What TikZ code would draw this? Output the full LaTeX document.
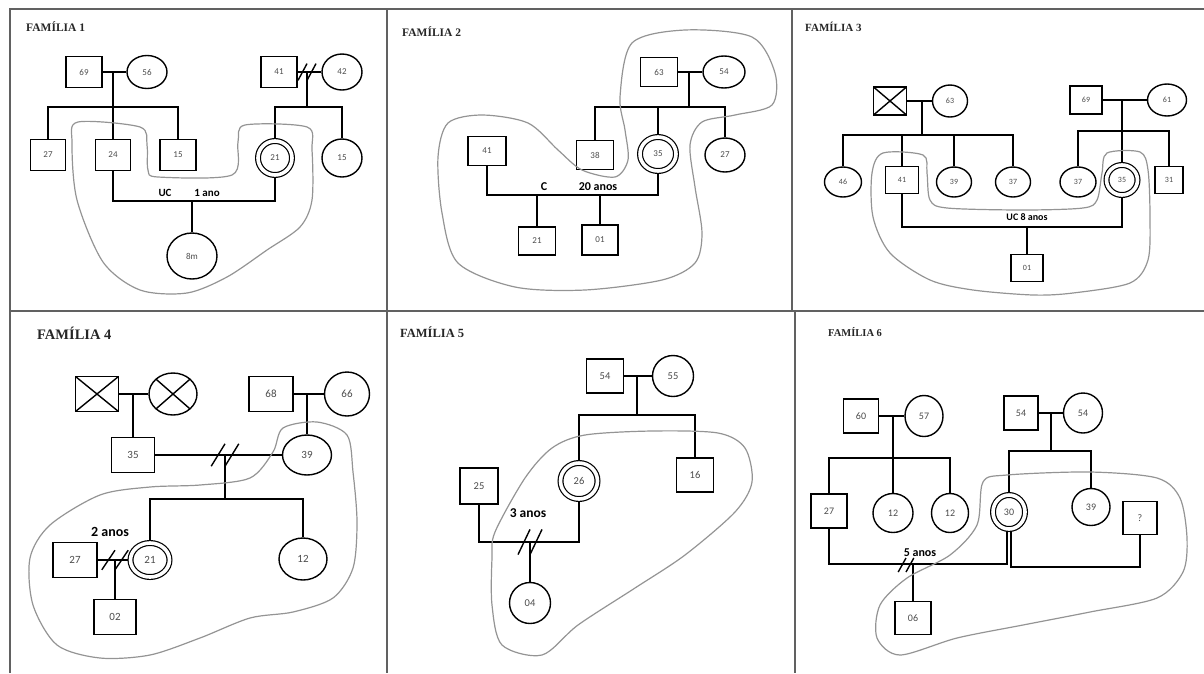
\documentclass[tikz,border=0pt]{standalone}
\usepackage{fontspec}
\newfontfamily\carl{Carlito}
\newfontfamily\tms{Liberation Serif}
\usetikzlibrary{shapes.geometric}
\pgfdeclarelayer{bg}
\pgfsetlayers{bg,main}
\tikzset{
  nf/.style={font=\carl\fontsize{#1}{#1}\selectfont},
  person/.style={draw=black, line width=1.4pt, fill=white, inner sep=0pt, text=black!70, nf=9},
  msq/.style 2 args={person, rectangle, minimum width=#1pt, minimum height=#2pt},
  fcl/.style 2 args={person, ellipse, minimum width=#1pt, minimum height=#2pt},
  idx/.style 2 args={fcl={#1}{#2}, double=white, double distance=3.6pt, line width=1.2pt},
  xcross/.style={path picture={\draw[line width=1.4pt]
      (path picture bounding box.south west) -- (path picture bounding box.north east)
      (path picture bounding box.north west) -- (path picture bounding box.south east);}},
  link/.style={draw=black, line width=1.6pt},
  contour/.style={draw=black!42, line width=1.2pt},
  frame/.style={draw=black!62, line width=1.7pt},
  lbl/.style={font=\carl\bfseries\fontsize{#1}{#1}\selectfont, inner sep=0pt, text=black},
  ttl/.style={font=\tms\bfseries\fontsize{#1}{#1}\selectfont, inner sep=0pt, anchor=west, text=black!85},
  sepmarks/.pic={\draw[line width=1.4pt] (-6,7) -- (0,-7) (0,7) -- (6,-7);}
}
\begin{document}
\begin{tikzpicture}[x=1pt,y=-1pt]
\useasboundingbox (0,0) rectangle (1204,673);

% panel frames
\draw[frame] (10,673) -- (10,9) -- (1204,9);
\draw[frame] (10,311) -- (1204,311);
\draw[frame] (387,9) -- (387,673);
\draw[frame] (792,9) -- (792,311);
\draw[frame] (795,311) -- (795,673);

% ---------------- Familia 1
\node[ttl=11.5] (t1) at (26,27) {FAMÍLIA 1};
\node[msq={36}{31}] (p1a) at (84,72) {69};
\node[fcl={40}{33}] (p1b) at (147,72) {56};
\node[msq={36}{31}] (p1c) at (279,72) {41};
\node[fcl={40}{36}] (p1d) at (342,72) {42};
\node[msq={35}{31}] (p1e) at (48,155) {27};
\node[msq={35}{31}] (p1f) at (113,155) {24};
\node[msq={36}{31}] (p1g) at (178,155) {15};
\node[idx={34}{34}] (p1h) at (275,158) {21};
\node[fcl={40}{38}] (p1i) at (342,158) {15};
\node[fcl={50}{46}] (p1j) at (192,256) {8m};
\node[lbl=11] (p1k) at (165,193) {UC};
\node[lbl=11] (p1l) at (207,193) {1 ano};
\coordinate (p1m) at (113,72);
\coordinate (p1s) at (113,107);
\coordinate (p1n) at (307,72);
\coordinate (p1t) at (307,107);
\coordinate (p1u) at (192,201);
\begin{pgfonlayer}{bg}
\draw[link] (p1a.east) -- (p1b.west);
\draw[link] (p1m) -- (p1f.north);
\draw[link] (p1e.north) -- (p1e.north |- p1s) -- (p1g.north |- p1s) -- (p1g.north);
\draw[link] (p1c.east) -- (p1d.west);
\draw[link] (p1n) -- (p1t);
\draw[link] (p1h.north) -- (p1h.north |- p1t) -- (p1i.north |- p1t) -- (p1i.north);
\draw[link] (p1f.south) -- (p1f.south |- p1u) -- (p1h.south |- p1u) -- (p1h.south);
\draw[link] (p1u) -- (p1j.north);
\end{pgfonlayer}
\pic[xscale=1.5, yscale=1.2] at (p1n) {sepmarks};
\draw[contour] plot[smooth cycle] coordinates {(78,122) (140,127) (147,145) (148,170) (158,177) (232,175) (238,142) (245,125) (307,127) (312,150) (312,200) (300,227) (267,250) (227,277) (187,293) (140,290) (103,262) (77,200) (72,143)};

% ---------------- Familia 2
\node[ttl=11.5] (t2) at (402,32) {FAMÍLIA 2};
\node[msq={37}{29}] (p2a) at (659,72) {63};
\node[fcl={42}{32}] (p2b) at (724,72) {54};
\node[msq={37}{29}] (p2c) at (595,155) {38};
\node[idx={36}{34}] (p2d) at (658,154) {35};
\node[fcl={40}{34}] (p2e) at (725,155) {27};
\node[msq={38}{29}] (p2f) at (487,151) {41};
\node[msq={37}{28}] (p2g) at (537,241) {21};
\node[msq={36}{30}] (p2h) at (600,240) {01};
\node[lbl=12] (p2k) at (544,187) {C};
\node[lbl=12] (p2l) at (598,187) {20 anos};
\coordinate (p2m) at (689,72);
\coordinate (p2s) at (689,107);
\coordinate (p2v) at (537,195);
\coordinate (p2w) at (600,195);
\begin{pgfonlayer}{bg}
\draw[link] (p2a.east) -- (p2b.west);
\draw[link] (p2m) -- (p2s);
\draw[link] (p2c.north) -- (p2c.north |- p2s) -- (p2e.north |- p2s) -- (p2e.north);
\draw[link] (p2d.north) -- (p2d.north |- p2s);
\draw[link] (p2f.south) -- (p2f.south |- p2v) -- (p2d.south |- p2v) -- (p2d.south);
\draw[link] (p2v) -- (p2g.north);
\draw[link] (p2w) -- (p2h.north);
\end{pgfonlayer}
\draw[contour] plot[smooth cycle] coordinates {(620,97) (632,43) (685,30) (752,37) (775,73) (772,105) (735,115) (702,122) (690,145) (695,187) (702,233) (695,263) (662,280) (585,290) (515,287) (458,263) (442,213) (438,157) (448,123) (482,115) (528,123) (558,150) (582,170) (615,177) (628,160) (625,130)};

% ---------------- Familia 3
\begin{scope}[person/.append style={nf=8}]
\node[ttl=11] (t3) at (805,27) {FAMÍLIA 3};
\node[msq={33}{28},xcross] (p3a) at (890,101) {};
\node[fcl={35}{32}] (p3b) at (950,101) {63};
\node[fcl={37}{30}] (p3c) at (843,182) {46};
\node[msq={33}{27}] (p3d) at (902,180) {41};
\node[fcl={35}{30}] (p3e) at (954,182) {39};
\node[fcl={35}{30}] (p3f) at (1013,182) {37};
\node[msq={32}{28}] (p3g) at (1086,100) {69};
\node[fcl={39}{32}] (p3h) at (1167,100) {61};
\node[fcl={36}{30}] (p3i) at (1078,182) {37};
\node[idx={31}{30}] (p3j) at (1122,180) {35};
\node[msq={28}{27}] (p3k) at (1169,180) {31};
\node[msq={32}{27}] (p3l) at (1027,268) {01};
\end{scope}
\node[lbl=10] (p3z) at (1027,217) {UC 8 anos};
\coordinate (p3m) at (922,101);
\coordinate (p3s) at (922,135);
\coordinate (p3n) at (1122,100);
\coordinate (p3t) at (1122,131);
\coordinate (p3u) at (1027,227);
\begin{pgfonlayer}{bg}
\draw[link] (p3a.east) -- (p3b.west);
\draw[link] (p3m) -- (p3s);
\draw[link] (p3c.north) -- (p3c.north |- p3s) -- (p3f.north |- p3s) -- (p3f.north);
\draw[link] (p3d.north) -- (p3d.north |- p3s);
\draw[link] (p3e.north) -- (p3e.north |- p3s);
\draw[link] (p3g.east) -- (p3h.west);
\draw[link] (p3n) -- (p3j.north);
\draw[link] (p3i.north) -- (p3i.north |- p3t) -- (p3k.north |- p3t) -- (p3k.north);
\draw[link] (p3d.south) -- (p3d.south |- p3u) -- (p3j.south |- p3u) -- (p3j.south);
\draw[link] (p3u) -- (p3l.north);
\end{pgfonlayer}
\draw[contour] plot[smooth cycle] coordinates {(883,153) (923,155) (927,173) (930,200) (947,208) (1023,210) (1083,208) (1097,200) (1102,173) (1107,153) (1140,152) (1148,170) (1150,217) (1148,260) (1130,283) (1073,293) (1033,295) (973,290) (930,280) (890,253) (873,217) (872,173)};

% ---------------- Familia 4
\begin{scope}[person/.append style={nf=11}]
\node[ttl=14.5] (t4) at (37,333) {FAMÍLIA 4};
\node[msq={43}{35},xcross] (p4a) at (97,394) {};
\node[fcl={48}{42},xcross] (p4b) at (173,394) {};
\node[msq={43}{35}] (p4c) at (133,455) {35};
\node[msq={44}{35}] (p4d) at (271,394) {68};
\node[fcl={45}{44}] (p4e) at (347,394) {66};
\node[fcl={49}{40}] (p4f) at (307,455) {39};
\node[idx={39}{34}] (p4g) at (150,560) {21};
\node[fcl={48}{42}] (p4h) at (303,559) {12};
\node[msq={44}{35}] (p4i) at (75,560) {27};
\node[msq={42}{35}] (p4j) at (115,617) {02};
\end{scope}
\node[lbl=14] (p4z) at (110,532) {2 anos};
\coordinate (p4m) at (133,394);
\coordinate (p4n) at (307,394);
\coordinate (p4o) at (225,455);
\coordinate (p4s) at (225,499);
\coordinate (p4p) at (115,560);
\begin{pgfonlayer}{bg}
\draw[link] (p4a.east) -- (p4b.west);
\draw[link] (p4m) -- (p4c.north);
\draw[link] (p4d.east) -- (p4e.west);
\draw[link] (p4n) -- (p4f.north);
\draw[link] (p4c.east) -- (p4f.west);
\draw[link] (p4o) -- (p4s);
\draw[link] (p4g.north) -- (p4g.north |- p4s) -- (p4h.north |- p4s) -- (p4h.north);
\draw[link] (p4i.east) -- (p4g.west);
\draw[link] (p4p) -- (p4j.north);
\end{pgfonlayer}
\pic[xscale=2.3, yscale=1.6] at (p4o) {sepmarks};
\pic[xscale=2.2, yscale=1.4] at (p4p) {sepmarks};
\draw[contour] plot[smooth cycle] coordinates {(273,452) (283,428) (317,422) (347,435) (353,472) (357,522) (353,568) (333,598) (293,612) (250,618) (200,638) (150,655) (100,658) (57,645) (33,605) (30,558) (50,525) (100,495) (150,487) (200,485) (250,478)};

% ---------------- Familia 5
\begin{scope}[person/.append style={nf=10.5}]
\node[ttl=12.5] (t5) at (400,332) {FAMÍLIA 5};
\node[msq={37}{34}] (p5a) at (605,376) {54};
\node[fcl={41}{41}] (p5b) at (673,376) {55};
\node[idx={37}{36}] (p5c) at (579,481) {26};
\node[msq={37}{34}] (p5d) at (695,475) {16};
\node[msq={38}{36}] (p5e) at (479,486) {25};
\node[fcl={41}{41}] (p5f) at (530,603) {04};
\end{scope}
\node[lbl=13.5] (p5z) at (528,513) {3 anos};
\coordinate (p5m) at (637,376);
\coordinate (p5s) at (637,415);
\coordinate (p5u) at (530,542);
\begin{pgfonlayer}{bg}
\draw[link] (p5a.east) -- (p5b.west);
\draw[link] (p5m) -- (p5s);
\draw[link] (p5c.north) -- (p5c.north |- p5s) -- (p5d.north |- p5s) -- (p5d.north);
\draw[link] (p5e.south) -- (p5e.south |- p5u) -- (p5c.south |- p5u) -- (p5c.south);
\draw[link] (p5u) -- (p5f.north);
\end{pgfonlayer}
\pic[xscale=2, yscale=1.8] at (p5u) {sepmarks};
\draw[contour] plot[smooth cycle] coordinates {(495,532) (525,478) (552,448) (585,435) (652,431) (718,433) (745,448) (752,482) (735,512) (685,555) (635,588) (578,625) (542,655) (502,645) (492,605) (492,558)};

% ---------------- Familia 6
\begin{scope}[person/.append style={nf=10}]
\node[ttl=10.5] (t6) at (828,332) {FAMÍLIA 6};
\node[msq={35}{34}] (p6a) at (861,416) {60};
\node[fcl={38}{41}] (p6b) at (924,416) {57};
\node[msq={36}{34}] (p6c) at (829,511) {27};
\node[fcl={40}{39}] (p6d) at (893,513) {12};
\node[fcl={37}{39}] (p6e) at (950,513) {12};
\node[msq={34}{34}] (p6f) at (1021,413) {54};
\node[fcl={39}{40}] (p6g) at (1083,413) {54};
\node[idx={32}{34}] (p6h) at (1009,512) {30};
\node[fcl={38}{37}] (p6i) at (1091,507) {39};
\node[msq={34}{33}] (p6j) at (1140,518) {?};
\node[msq={36}{33}] (p6k) at (913,618) {06};
\end{scope}
\node[lbl=12] (p6z) at (920,553) {5 anos};
\coordinate (p6m) at (893,416);
\coordinate (p6s) at (893,458);
\coordinate (p6n) at (1051,413);
\coordinate (p6t) at (1051,451);
\coordinate (p6u) at (913,564);
\coordinate (p6d1) at (906,565);
\coordinate (p6w) at (1141,567);
\begin{pgfonlayer}{bg}
\draw[link] (p6a.east) -- (p6b.west);
\draw[link] (p6m) -- (p6s);
\draw[link] (p6c.north) -- (p6c.north |- p6s) -- (p6e.north |- p6s) -- (p6e.north);
\draw[link] (p6d.north) -- (p6d.north |- p6s);
\draw[link] (p6f.east) -- (p6g.west);
\draw[link] (p6n) -- (p6t);
\draw[link] (p6h.north) -- (p6h.north |- p6t) -- (p6i.north |- p6t) -- (p6i.north);
\draw[link] (p6c.south) -- (p6c.south |- p6u) -- ([xshift=-2pt]p6h.south |- p6u) -- ([xshift=-2pt]p6h.south);
\draw[link] ([xshift=2pt]p6h.south) -- ([xshift=2pt]p6h.south |- p6w) -- (p6j.south |- p6w) -- (p6j.south);
\draw[link] (p6u) -- (p6k.north);
\end{pgfonlayer}
\pic[xscale=1.3, yscale=1.0] at (p6d1) {sepmarks};
\draw[contour] plot[smooth cycle] coordinates {(983,482) (1007,475) (1090,472) (1157,478) (1180,498) (1187,538) (1183,572) (1157,598) (1090,612) (1023,625) (957,638) (900,655) (877,638) (880,605) (907,578) (950,555) (977,525)};
\end{tikzpicture}
\end{document}
